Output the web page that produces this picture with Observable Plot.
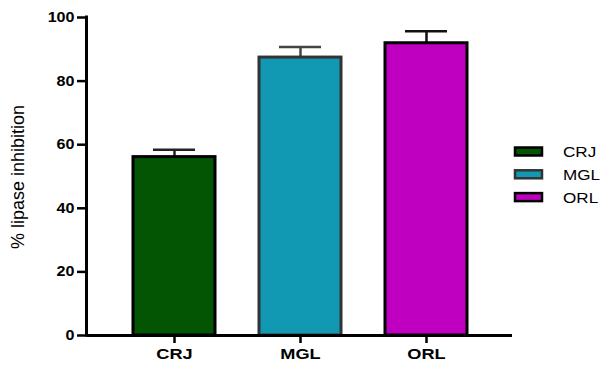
<!DOCTYPE html>
<html><head><meta charset="utf-8">
<script src="https://cdn.jsdelivr.net/npm/d3@7"></script>
<script src="https://cdn.jsdelivr.net/npm/@observablehq/plot@0.6"></script>
<style>body{margin:0;background:#fff} svg{display:block}</style>
</head><body><div id="chart"></div>
<script>
const categories = ["CRJ", "MGL", "ORL"];
const means = [56.1, 87.4, 91.9];
const errors = [2.3, 3.3, 3.8];
const fills = ["#035503", "#1199B4", "#C000C0"];
const strokes = ["#000000", "#333333", "#000000"];
const errColors = ["#222222", "#444444", "#111111"];
const yTicks = [0, 20, 40, 60, 80, 100];
const yTitle = "% lipase inhibition";

const data = categories.map((c, i) => ({
  cat: c, mean: means[i], hi: means[i] + errors[i],
  fill: fills[i], stroke: strokes[i], err: errColors[i]
}));

const plot = Plot.plot({
  width: 603, height: 367,
  marginLeft: 87, marginRight: 91, marginTop: 17, marginBottom: 32,
  style: {fontFamily: "'Liberation Sans', Arial, sans-serif", background: "#fff", color: "#000"},
  x: {domain: categories, paddingInner: 0.35, paddingOuter: 0.35, label: null, tickSize: 8, tickPadding: 6},
  y: {domain: [0, 100], ticks: yTicks, label: null, tickSize: 10, tickPadding: 3},
  color: {type: "identity"},
  marks: [
    Plot.ruleX(data, {x: "cat", y1: "mean", y2: "hi", stroke: "err", strokeWidth: 2.5}),
    Plot.tickY(data, {x: "cat", y: "hi", stroke: "err", strokeWidth: 2.5, insetLeft: 20, insetRight: 20}),
    Plot.barY(data, {x: "cat", y: "mean", fill: "fill", stroke: "stroke", strokeWidth: 3}),
    Plot.ruleY([0], {stroke: "#000", strokeWidth: 3})
  ]
});

const svg = d3.select(plot);
const ys = plot.scale("y");

// axis styling
svg.selectAll('[aria-label="y-axis tick"], [aria-label="x-axis tick"]').attr("stroke", "#000").attr("stroke-width", 2.5);
svg.selectAll('[aria-label="y-axis tick label"]').attr("font-size", 14).attr("font-weight", "bold").attr("fill", "#000");
svg.selectAll('[aria-label="x-axis tick label"]').attr("font-size", 14).attr("font-weight", "bold").attr("fill", "#000");
svg.selectAll('[aria-label="y-axis tick label"] text').each(function () {
  this.setAttribute("transform", (this.getAttribute("transform") || "") + " scale(1.15,1)");
});
svg.selectAll('[aria-label="x-axis tick label"] text').each(function () {
  this.setAttribute("transform", (this.getAttribute("transform") || "") + " scale(1.3,1)");
});

// y axis line
const x0 = 87 - 0.5;
svg.append("line")
  .attr("x1", x0).attr("x2", x0)
  .attr("y1", ys.apply(100) - 1.5).attr("y2", ys.apply(0) + 1.5)
  .attr("stroke", "#000").attr("stroke-width", 3);

// y title
svg.append("text")
  .attr("transform", `translate(23.5,${(ys.apply(0) + ys.apply(100)) / 2 + 1}) rotate(-90)`)
  .attr("text-anchor", "middle")
  .attr("font-size", 18)
  .attr("fill", "#000")
  .text(yTitle);

// legend
const lg = svg.append("g").attr("text-anchor", "start");
categories.forEach((c, i) => {
  const cy = 151.5 + i * 22.8;
  lg.append("rect").attr("x", 515).attr("y", cy - 4).attr("width", 27).attr("height", 8)
    .attr("fill", fills[i]).attr("stroke", i === 1 ? "#333" : "#000").attr("stroke-width", 2.5);
  lg.append("text").attr("transform", `translate(563,${cy + 5.5}) scale(1.14,1)`)
    .attr("text-anchor", "start")
    .attr("font-size", 15).attr("fill", "#000").text(c);
});

document.getElementById("chart").appendChild(plot);
</script>
</body></html>
